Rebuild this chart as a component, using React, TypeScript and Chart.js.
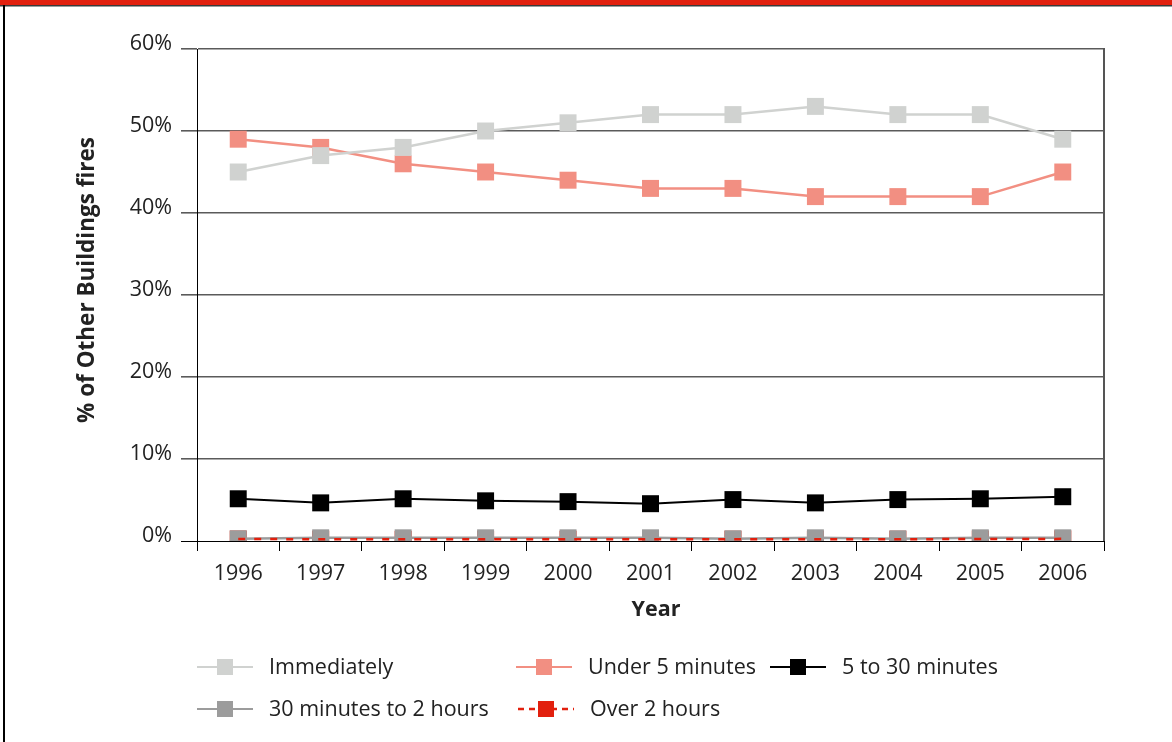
import React, { useEffect, useRef } from "react";
import { Chart, registerables } from "chart.js";

Chart.register(...registerables);

// ---- data -------------------------------------------------------------
const years = ["1996", "1997", "1998", "1999", "2000", "2001", "2002", "2003", "2004", "2005", "2006"];

const immediately = [45, 47, 48, 50, 51, 52, 52, 53, 52, 52, 49];
const underFive = [49, 48, 46, 45, 44, 43, 43, 42, 42, 42, 45];
const fiveToThirty = [5.15, 4.65, 5.15, 4.9, 4.8, 4.55, 5.05, 4.65, 5.05, 5.15, 5.4];
const thirtyToTwoHours = [0.27, 0.39, 0.39, 0.39, 0.39, 0.39, 0.27, 0.39, 0.27, 0.39, 0.39];
const overTwoHours = [0.24, 0.22, 0.2, 0.22, 0.22, 0.22, 0.22, 0.22, 0.22, 0.24, 0.26];

const yTicks = [0, 10, 20, 30, 40, 50, 60];

const seriesNames = [
  "Immediately",
  "Under 5 minutes",
  "5 to 30 minutes",
  "30 minutes to 2 hours",
  "Over 2 hours",
];

// ---- styling ----------------------------------------------------------
const FONT = "'Open Sans', 'Noto Sans', sans-serif";
const TEXT = "#222222";

const C_IMMEDIATE = "#d0d2d0";
const C_UNDER5 = "#f28f82";
const C_FIVE30 = "#000000";
const C_THIRTY = "#9c9c9c";
const C_OVER2 = "#e2200e";
const RED_BAR = "#e2200e";

const MARK_R = 12;

type LegendEntry = {
  label: string;
  color: string;
  dash: number[];
  x: number;
  y: number;
};

const legendEntries: LegendEntry[] = [
  { label: seriesNames[0], color: C_IMMEDIATE, dash: [], x: 197, y: 667 },
  { label: seriesNames[1], color: C_UNDER5, dash: [], x: 516, y: 667 },
  { label: seriesNames[2], color: C_FIVE30, dash: [], x: 770, y: 667 },
  { label: seriesNames[3], color: C_THIRTY, dash: [], x: 197, y: 709 },
  { label: seriesNames[4], color: C_OVER2, dash: [6, 5], x: 518, y: 709 },
];

// frame, axis titles, right border and legend
const decorPlugin = {
  id: "decor",
  beforeDraw(chart: any) {
    const { ctx, width, height } = chart;
    ctx.save();
    ctx.fillStyle = "#ffffff";
    ctx.fillRect(0, 0, width, height);
    ctx.fillStyle = RED_BAR;
    ctx.fillRect(0, 0, width, 5);
    ctx.fillStyle = "#3a3a3a";
    ctx.fillRect(0, 5, width, 1.5);
    ctx.fillStyle = "#000000";
    ctx.fillRect(3, 5, 2, height - 5);
    ctx.restore();
  },
  afterDraw(chart: any) {
    const { ctx, chartArea } = chart;
    ctx.save();
    // right edge of the plot frame
    ctx.strokeStyle = "#555555";
    ctx.lineWidth = 2;
    ctx.beginPath();
    ctx.moveTo(chartArea.right, chartArea.top - 1);
    ctx.lineTo(chartArea.right, chartArea.bottom);
    ctx.stroke();

    // axis titles
    ctx.fillStyle = TEXT;
    ctx.textAlign = "center";
    ctx.textBaseline = "middle";
    ctx.font = `bold 21.5px ${FONT}`;
    ctx.fillText("Year", 656, 610);
    ctx.save();
    ctx.translate(88, 280);
    ctx.rotate(-Math.PI / 2);
    ctx.font = `bold 22.5px ${FONT}`;
    ctx.fillText("% of Other Buildings fires", 0, 0);
    ctx.restore();

    // legend
    ctx.font = `21.5px ${FONT}`;
    ctx.textAlign = "left";
    for (const e of legendEntries) {
      ctx.strokeStyle = e.color;
      ctx.lineWidth = e.dash.length ? 2.5 : 2.2;
      ctx.setLineDash(e.dash);
      ctx.beginPath();
      ctx.moveTo(e.x, e.y);
      ctx.lineTo(e.x + 56, e.y);
      ctx.stroke();
      ctx.setLineDash([]);
      ctx.fillStyle = e.color;
      ctx.fillRect(e.x + 28 - 8, e.y - 8, 16, 16);
      ctx.fillStyle = TEXT;
      ctx.fillText(e.label, e.x + 72, e.y + 1);
    }
    ctx.restore();
  },
};

export default function App() {
  const canvasRef = useRef<HTMLCanvasElement | null>(null);

  useEffect(() => {
    document.body.style.margin = "0";
    const canvas = canvasRef.current;
    if (!canvas) return;

    const square = (color: string) => ({
      pointStyle: "rect" as const,
      pointRadius: MARK_R,
      pointHoverRadius: MARK_R,
      pointBackgroundColor: color,
      pointBorderColor: color,
      pointBorderWidth: 0,
    });

    const chart = new Chart(canvas, {
      type: "line",
      data: {
        labels: years,
        // lower index is painted on top
        datasets: [
          {
            label: seriesNames[4],
            data: overTwoHours,
            borderColor: C_OVER2,
            borderWidth: 2.5,
            borderDash: [7, 9],
            pointRadius: 0,
            tension: 0,
          },
          {
            label: seriesNames[3],
            data: thirtyToTwoHours,
            borderColor: C_THIRTY,
            borderWidth: 2.5,
            ...square(C_THIRTY),
            tension: 0,
          },
          {
            label: seriesNames[4] + " markers",
            data: overTwoHours,
            showLine: false,
            ...square(C_OVER2),
          },
          {
            label: seriesNames[2],
            data: fiveToThirty,
            borderColor: C_FIVE30,
            borderWidth: 2,
            ...square(C_FIVE30),
            tension: 0,
          },
          {
            label: seriesNames[0],
            data: immediately,
            borderColor: C_IMMEDIATE,
            borderWidth: 2.5,
            ...square(C_IMMEDIATE),
            tension: 0,
          },
          {
            label: seriesNames[1],
            data: underFive,
            borderColor: C_UNDER5,
            borderWidth: 2.5,
            ...square(C_UNDER5),
            tension: 0,
          },
        ],
      },
      options: {
        responsive: false,
        animation: false,
        events: [],
        layout: { padding: { left: 0, top: 49, right: 68, bottom: 101 } },
        plugins: {
          legend: { display: false },
          tooltip: { enabled: false },
          title: { display: false },
        },
        scales: {
          x: {
            type: "category",
            offset: true,
            afterFit: (scale: any) => {
              scale.height = 100;
            },
            grid: {
              offset: true,
              drawOnChartArea: false,
              drawTicks: true,
              tickLength: 10,
              color: "#000000",
              lineWidth: 1,
            },
            border: { display: true, color: "#000000", width: 1 },
            ticks: {
              color: TEXT,
              font: { family: FONT, size: 21.5 },
              padding: 10,
              maxRotation: 0,
              autoSkip: false,
            },
          },
          y: {
            min: 0,
            max: 60,
            afterFit: (scale: any) => {
              scale.width = 197;
            },
            afterBuildTicks: (scale: any) => {
              scale.ticks = yTicks.map((v) => ({ value: v }));
            },
            grid: {
              color: (c: any) => (c.tick && c.tick.value === 0 ? "#000000" : "#5a5a5a"),
              lineWidth: (c: any) => (c.tick && c.tick.value === 0 ? 1 : 1.6),
              drawTicks: true,
              tickLength: 16,
            },
            border: { display: true, color: "#000000", width: 1 },
            ticks: {
              color: TEXT,
              font: { family: FONT, size: 21.5 },
              padding: 9,
              labelOffset: -5,
              callback: (v: any) => `${v}%`,
            },
          },
        },
      },
      plugins: [decorPlugin],
    });

    return () => chart.destroy();
  }, []);

  return (
    <div style={{ width: 1172, height: 742, position: "relative" }}>
      <canvas ref={canvasRef} width={1172} height={742} style={{ display: "block" }} />
    </div>
  );
}
